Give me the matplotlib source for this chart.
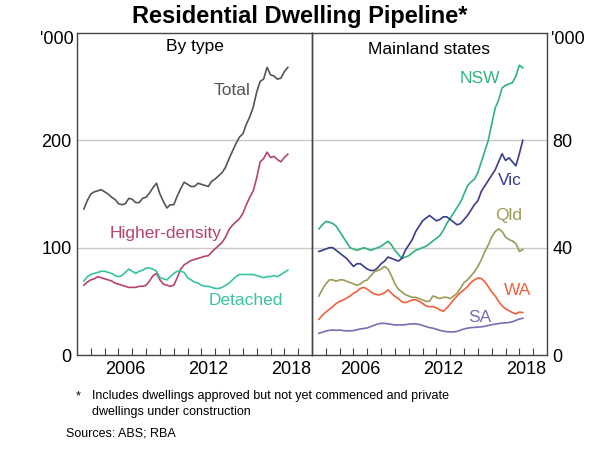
import numpy as np
import matplotlib
matplotlib.use("Agg")
import matplotlib.pyplot as plt
from matplotlib.ticker import FixedLocator, NullFormatter

plt.rcParams['font.family'] = ['Liberation Sans', 'DejaVu Sans']

# ---- data (quarterly, 2003.5 .. 2018.25) ----
start_year = 2003.5
total = [136, 144, 150, 152, 153, 154, 152, 150, 147, 145, 141, 140, 141, 146, 145, 142,
         142, 146, 147, 151, 156, 160, 150, 143, 137, 140, 140, 148, 155, 161, 159, 157,
         157, 160, 159, 158, 157, 162, 164, 167, 170, 175, 183, 190, 197, 203, 206, 215,
         222, 231, 245, 255, 257, 268, 261, 260, 257, 258, 264, 268]
higher_density = [65, 68, 70, 71, 73, 72, 71, 70, 69, 67, 66, 65, 64, 63, 63, 63,
                  64, 64, 65, 69, 74, 76, 70, 66, 65, 64, 65, 72, 80, 84, 86, 88,
                  89, 90, 91, 92, 92.5, 96, 99, 102, 105, 110, 117, 121, 124, 127, 132, 140,
                  147, 153, 165, 180, 183, 189, 184, 185, 182, 180, 184, 187]
detached = [69, 73, 75, 76, 77, 78, 78, 77, 76, 74, 73, 74, 77, 80, 78, 76,
            78, 79, 81, 81, 80, 78, 72, 71, 70, 73, 76, 78, 78, 77, 72, 70,
            68, 67, 65, 64, 64, 63, 62, 62, 63, 65, 67, 70, 73, 75, 75, 75,
            75, 75, 74, 73, 72, 73, 73, 74, 73, 75, 77, 79]
nsw = [47, 48.5, 49.8, 49.5, 49, 48, 46, 44, 42, 40, 39.5, 39, 39.5, 40, 39.5, 39,
       39.5, 40, 40.5, 41.5, 42.4, 41, 39, 37.5, 36, 36.5, 37, 38, 39, 39.5, 40, 40.5,
       41.5, 42.5, 43.5, 44.5, 46.5, 49, 51, 53, 55, 57, 60, 63, 64.5, 65.5, 68, 72,
       76, 80, 86, 92, 95, 99.5, 100.5, 101, 101.5, 104, 108, 107]
vic = [38.6, 39, 39.5, 40, 40, 39, 38, 37, 36, 34.5, 33, 34, 34, 33, 32, 31.5,
       31.5, 32.5, 34, 35, 36.5, 36, 35.5, 35, 36, 39, 41, 43, 46, 48, 50, 51,
       52, 51, 50, 50.5, 51.5, 51.5, 50.5, 49.5, 48.5, 49, 50.5, 52, 54, 56, 57.5, 61,
       63, 65, 67, 69, 72, 75, 72.5, 73.5, 72, 70.5, 75, 80]
qld = [22, 24.5, 26.5, 28, 28, 27.5, 28, 28, 27.5, 27, 26.5, 26, 26.5, 27.5, 28, 29.5,
       31, 31.5, 32, 33, 32, 29.5, 26.5, 24.5, 23.5, 22.5, 22, 21.5, 21.5, 21, 20.5, 20,
       20, 22, 21.5, 21, 21.5, 21.5, 21, 22, 23, 25, 27, 28, 29.5, 31, 33, 35.5,
       38.5, 41, 44, 46, 47, 46, 44, 43, 42.5, 41.5, 38.6, 39.3]
wa = [13.3, 14.8, 16, 17, 18, 19.2, 20, 20.5, 21.2, 22, 23, 23.7, 24.8, 25.2, 24.5, 23.5,
      22.8, 22.4, 22.6, 23.2, 24.3, 23, 21.8, 21, 19.8, 19.5, 20, 20.5, 20.6, 20, 19.2, 18.3,
      18, 18, 17.6, 16.8, 16.3, 17.5, 19, 20.6, 22, 23.3, 24.3, 25.5, 27, 28, 28.7, 28.5,
      27.3, 25.5, 23.5, 22, 20, 18.3, 17.2, 16.5, 15.8, 15.3, 16, 15.8]
sa = [8.1, 8.5, 8.9, 9.2, 9.3, 9.2, 9.3, 9.1, 9.0, 9.0, 9.1, 9.4, 9.7, 9.9, 10.1, 10.6,
      11.1, 11.5, 11.8, 11.8, 11.6, 11.4, 11.2, 11.2, 11.2, 11.3, 11.5, 11.6, 11.6, 11.4, 11.0, 10.6,
      10.2, 10.0, 9.6, 9.2, 8.9, 8.7, 8.6, 8.6, 8.8, 9.3, 9.7, 10.0, 10.2, 10.3, 10.4, 10.5,
      10.7, 11.0, 11.3, 11.5, 11.7, 11.9, 12.0, 12.1, 12.4, 12.9, 13.4, 13.7]

left_ticks = [0, 100, 200]
left_ticklabels = ['0', '100', '200']
right_ticks = [0, 40, 80]
right_ticklabels = ['0', '40', '80']
year_labels = ['2006', '2012', '2018']

x = start_year + 0.25 * np.arange(len(total))

# ---- styling ----
C_TOTAL = '#555555'
C_HD = '#B8426E'
C_DET = '#38C3A2'
C_NSW = '#2EB47A'
C_VIC = '#3A3C8C'
C_QLD = '#9C9A55'
C_WA = '#F2603C'
C_SA = '#7E6AB5'
GRID = '#C8C8C8'
SPINE = '#444444'

TICK_FS = 13
LAB_FS = 12.5

fig = plt.figure(figsize=(6.0, 4.54), dpi=100)
axL = fig.add_axes([77/600, 1 - 355/454, 235/600, 322/454])
axR = fig.add_axes([312/600, 1 - 355/454, 235/600, 322/454])

for ax in (axL, axR):
    ax.set_xlim(2003, 2020)
    for s in ax.spines.values():
        s.set_color(SPINE)
        s.set_linewidth(1.0)
    ax.xaxis.set_major_locator(FixedLocator(np.arange(2004, 2020)))
    ax.xaxis.set_major_formatter(NullFormatter())
    ax.xaxis.set_minor_locator(FixedLocator([2006.5, 2012.5, 2018.5]))
    ax.set_xticklabels(year_labels, minor=True)
    ax.tick_params(axis='x', which='major', direction='in', length=5, width=0.8, color=SPINE)
    ax.tick_params(axis='x', which='minor', length=0, labelsize=TICK_FS, pad=4)
    ax.patch.set_alpha(0)

axL.set_ylim(0, 300)
axL.set_yticks(left_ticks)
axL.set_yticklabels(left_ticklabels)
axL.tick_params(axis='y', length=0, labelsize=TICK_FS, pad=4)
for v in (100, 200):
    axL.axhline(v, color=GRID, lw=1.0, zorder=0)

axR.set_ylim(0, 120)
axR.set_yticks(right_ticks)
axR.set_yticklabels(right_ticklabels)
axR.yaxis.tick_right()
axR.tick_params(axis='y', length=0, labelsize=TICK_FS, pad=4)
for v in (40, 80):
    axR.axhline(v, color=GRID, lw=1.0, zorder=0)

lw = 1.2
axL.plot(x, total, color=C_TOTAL, lw=lw)
axL.plot(x, higher_density, color=C_HD, lw=lw)
axL.plot(x, detached, color=C_DET, lw=lw)

axR.plot(x, nsw, color=C_NSW, lw=lw)
axR.plot(x, vic, color=C_VIC, lw=lw)
axR.plot(x, qld, color=C_QLD, lw=lw)
axR.plot(x, wa, color=C_WA, lw=lw)
axR.plot(x, sa, color=C_SA, lw=lw)

axL.text(2014.2, 246, 'Total', color=C_TOTAL, fontsize=LAB_FS, ha='center', va='center')
axL.text(2009.4, 113, 'Higher-density', color=C_HD, fontsize=LAB_FS, ha='center', va='center')
axL.text(2015.2, 51, 'Detached', color=C_DET, fontsize=LAB_FS, ha='center', va='center')
axR.text(2015.15, 103, 'NSW', color=C_NSW, fontsize=LAB_FS, ha='center', va='center')
axR.text(2017.33, 65, 'Vic', color=C_VIC, fontsize=LAB_FS, ha='center', va='center')
axR.text(2017.26, 52, 'Qld', color=C_QLD, fontsize=LAB_FS, ha='center', va='center')
axR.text(2017.84, 24, 'WA', color=C_WA, fontsize=LAB_FS, ha='center', va='center')
axR.text(2015.15, 13.8, 'SA', color=C_SA, fontsize=LAB_FS, ha='center', va='center')

fig.text((77 + 117.5)/600, 1 - 47/454, 'By type', ha='center', va='center', fontsize=LAB_FS)
fig.text((312 + 117.5)/600, 1 - 50/454, 'Mainland states', ha='center', va='center', fontsize=LAB_FS)

# unit labels
fig.text(74/600, 1 - 40/454, "'000", ha='right', va='center', fontsize=TICK_FS)
fig.text(551/600, 1 - 40/454, "'000", ha='left', va='center', fontsize=TICK_FS)

fig.text(300/600, 1 - 17/454, 'Residential Dwelling Pipeline*', ha='center', va='center',
         fontsize=17, fontweight='bold')

fn = 9
fig.text(78/600, 1 - 396/454, '*', ha='center', va='center', fontsize=fn)
fig.text(92/600, 1 - 396/454, 'Includes dwellings approved but not yet commenced and private',
         ha='left', va='center', fontsize=fn)
fig.text(92/600, 1 - 412/454, 'dwellings under construction', ha='left', va='center', fontsize=fn)
fig.text(66/600, 1 - 433/454, 'Sources: ABS; RBA', ha='left', va='center', fontsize=fn)

fig.savefig('out.png', dpi=100)
